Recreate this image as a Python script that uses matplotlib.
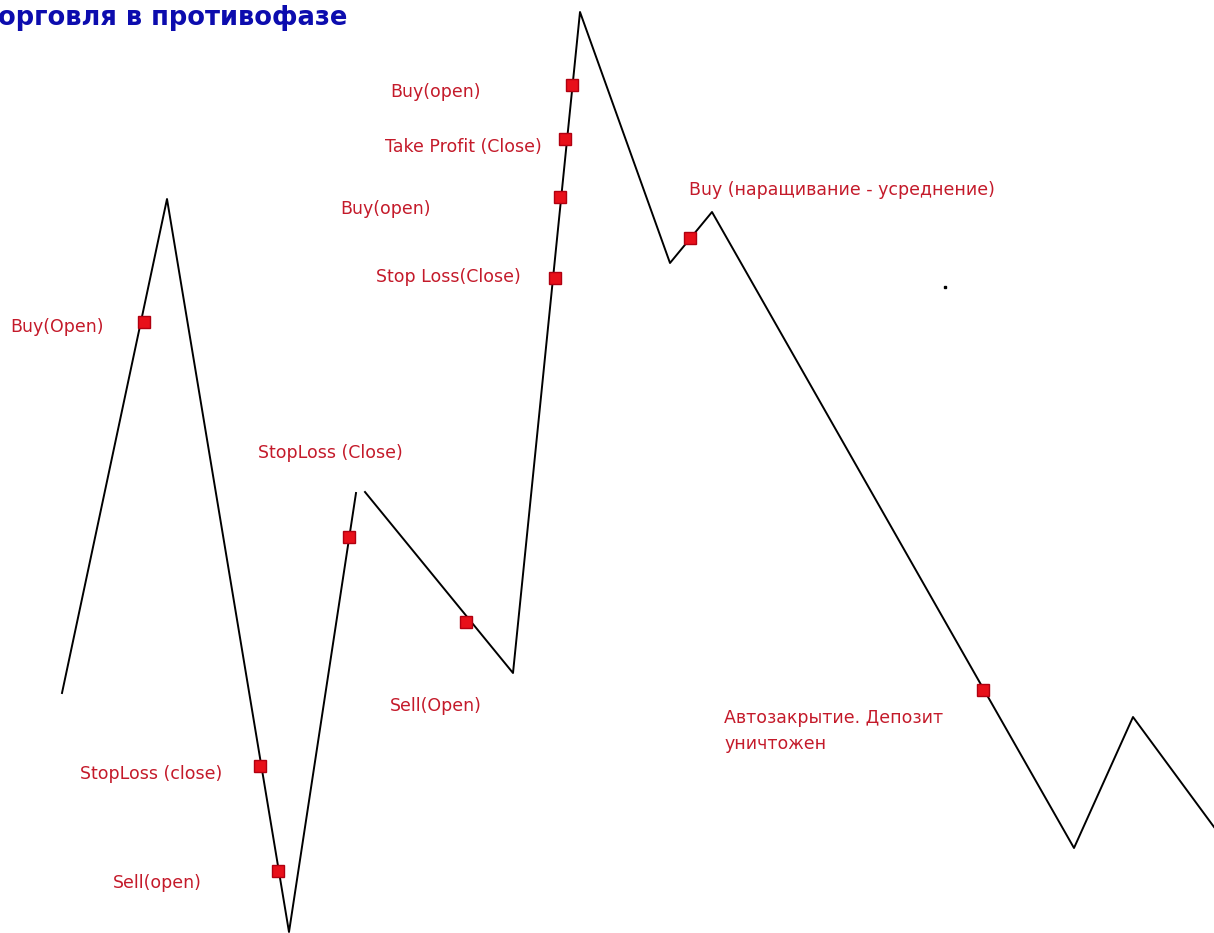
import matplotlib.pyplot as plt
import numpy as np

# price path (x = time, y = price, same scale as the picture);
# the path has a small break after the fourth point
path_x = [62, 167, 289, 356, np.nan, 365, 513, 580, 670, 712, 1074, 1133, 1214]
path_y = [240, 734, 1, 440, np.nan, 441, 260, 921, 670, 721, 85, 216, 106]

# trade points
trade_x = [144, 572, 565, 560, 555, 349, 466, 260, 278, 690, 983]
trade_y = [611, 848, 794, 736, 655, 396, 311, 167, 62, 695, 243]

# labels: text, x of left edge, y of centre
labels = ['Buy(Open)', 'Buy(open)', 'Take Profit (Close)', 'Buy(open)',
          'Stop Loss(Close)', 'StopLoss (Close)', 'Sell(Open)',
          'StopLoss (close)', 'Sell(open)',
          'Buy (наращивание - усреднение)',
          'Автозакрытие. Депозит\nуничтожен']
label_x = [10, 390, 385, 340, 376, 258, 390, 80, 113, 689, 724]
label_y = [606, 841, 786, 724, 656, 480, 227, 159, 50, 743, 202]

title = 'орговля в противофазе'

W, H = 1214, 933
fig = plt.figure(figsize=(W / 100, H / 100), dpi=100, facecolor='w')
ax = fig.add_axes([0, 0, 1, 1], xticks=[], yticks=[], frameon=False)
ax.set_xlim(0, W)
ax.set_ylim(0, H)

ax.plot(path_x, path_y, color='k', lw=1.4)
ax.plot(trade_x, trade_y, ls='none', marker='s', ms=9.2,
        mfc='#e8101a', mec='#b00010', mew=1)
# stray dot near the right
ax.plot([945], [646], ls='none', marker='s', ms=1.5, color='k')

red = '#c41a2a'
for t, x, y in zip(labels, label_x, label_y):
    ax.text(x, y, t, color=red, fontsize=12.5, ha='left', va='center',
            linespacing=1.6)

ax.text(-2, 915, title, color='#0c0cae', fontsize=18.5, fontweight='bold',
        ha='left', va='center')

fig.savefig('out.png', dpi=100, facecolor='w')
